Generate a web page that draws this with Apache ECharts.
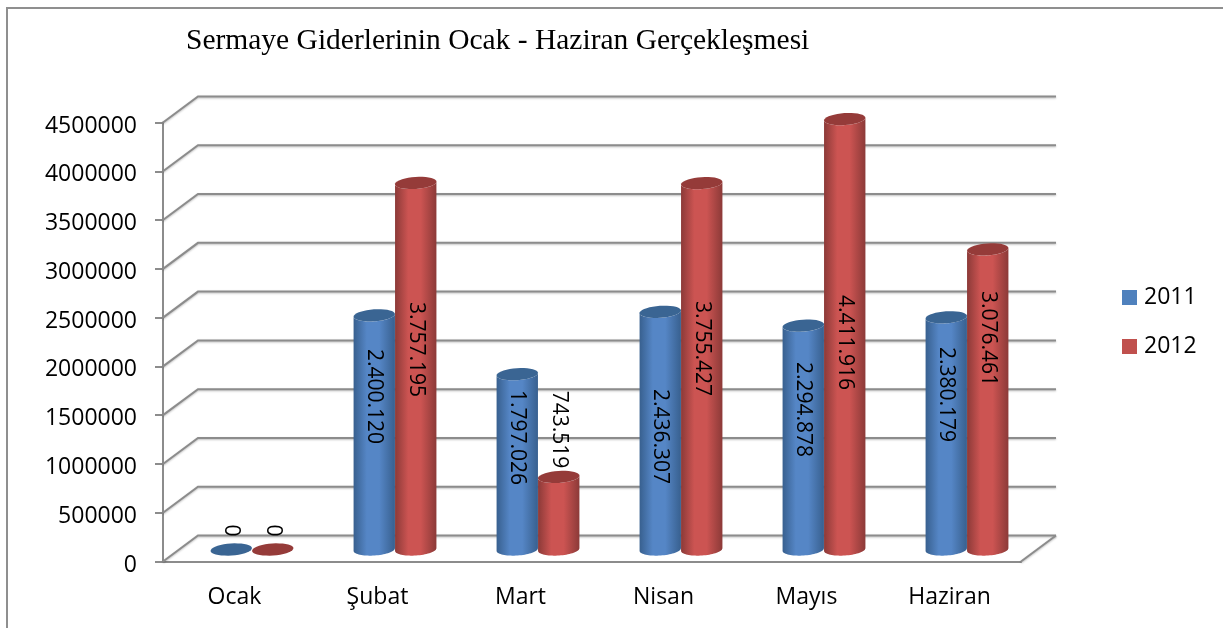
<!DOCTYPE html>
<html lang="tr">
<head>
<meta charset="utf-8">
<title>Sermaye Giderleri</title>
<script src="https://cdn.jsdelivr.net/npm/echarts@6/dist/echarts.min.js"></script>
<style>
  html, body { margin: 0; padding: 0; background: #fff; }
  #chart { width: 1223px; height: 628px; }
</style>
</head>
<body>
<div id="chart"></div>
<script>
const categories = ['Ocak', 'Şubat', 'Mart', 'Nisan', 'Mayıs', 'Haziran'];
const values2011 = [0, 2400120, 1797026, 2436307, 2294878, 2380179];
const values2012 = [0, 3757195, 743519, 3755427, 4411916, 3076461];
const yTicks = [0, 500000, 1000000, 1500000, 2000000, 2500000, 3000000, 3500000, 4000000, 4500000];
// height on the value axis where each rotated label sits
const labelAt2011 = [195000, 1568000, 1148000, 1158000, 1435000, 1589000];
const labelAt2012 = [195000, 2050000, 1230000, 2060000, 2122000, 2163000];

const FONT = '"Open Sans", sans-serif';
const GRID_LINE = '#8c8c8c';
const DEPTH_X = 35;
const DEPTH_Y = 26;
const BAR_LIFT = 12;

const chart = echarts.init(document.getElementById('chart'));

// 2.400.120 style numbers
function dotted(n) {
  return String(n).replace(/\B(?=(\d{3})+$)/g, '.');
}

function ellipsePoints(cx, cy, rx, ry, from, to) {
  const tilt = -4 * Math.PI / 180;
  const pts = [];
  const steps = 36;
  for (let i = 0; i <= steps; i++) {
    const a = from + (to - from) * i / steps;
    const ex = rx * Math.cos(a);
    const ey = ry * Math.sin(a);
    pts.push([
      cx + ex * Math.cos(tilt) - ey * Math.sin(tilt),
      cy + ex * Math.sin(tilt) + ey * Math.cos(tilt)
    ]);
  }
  return pts;
}

// back wall, side wall and floor lines
function renderWall(params, api) {
  const v = api.value(1);
  const band = api.size([1, 0])[0];
  const left = api.coord([0, v]);
  const right = api.coord([categories.length - 1, v]);
  const x0 = left[0] - band / 2;
  const x1 = right[0] + band / 2;
  const y = left[1];
  const lineStyle = {
    stroke: GRID_LINE, lineWidth: 2, fill: null,
    shadowColor: 'rgba(0,0,0,0.25)', shadowBlur: 2, shadowOffsetY: 1
  };
  const children = [{
    type: 'polyline',
    shape: { points: [[x0, y], [x0 + DEPTH_X, y - DEPTH_Y], [x1 + DEPTH_X, y - DEPTH_Y]] },
    style: lineStyle
  }];
  if (v === 0) {
    children.push({
      type: 'polyline',
      shape: { points: [[x1, y], [x1 + DEPTH_X, y - DEPTH_Y]] },
      style: lineStyle
    });
  }
  return { type: 'group', children };
}

function cylinder(side, edge, mid, topColor) {
  return function (params, api) {
    const i = api.value(0);
    const v = api.value(1);
    const band = api.size([1, 0])[0];
    const w = band * 0.29;
    const rx = w / 2;
    const ry = 6;
    const center = api.coord([i, v])[0] + DEPTH_X / 2 + side * rx;
    const topY = api.coord([i, v])[1] - BAR_LIFT;
    const baseY = api.coord([i, 0])[1] - BAR_LIFT;
    const labelY = api.coord([i, api.value(2)])[1] - BAR_LIFT;

    const children = [];
    if (v > 0) {
      const bottomArc = ellipsePoints(center, baseY, rx, ry, Math.PI, 0);
      const topArc = ellipsePoints(center, topY, rx, ry, 0, Math.PI);
      children.push({
        type: 'polygon',
        shape: { points: bottomArc.concat(topArc) },
        style: {
          fill: {
            type: 'linear', x: 0, y: 0, x2: 1, y2: 0,
            colorStops: [
              { offset: 0, color: edge },
              { offset: 0.32, color: mid },
              { offset: 0.62, color: mid },
              { offset: 1, color: edge }
            ]
          }
        }
      });
    }
    children.push({
      type: 'polygon',
      shape: { points: ellipsePoints(center, topY, rx, ry, 0, Math.PI * 2) },
      style: { fill: topColor }
    });
    children.push({
      type: 'text',
      x: center,
      y: labelY,
      rotation: -Math.PI / 2,
      style: {
        text: dotted(v),
        fill: '#000',
        font: '21px ' + FONT,
        align: 'center',
        verticalAlign: 'middle'
      }
    });
    return { type: 'group', children };
  };
}

chart.setOption({
  animation: false,
  backgroundColor: '#fff',
  title: {
    text: 'Sermaye Giderlerinin Ocak - Haziran Gerçekleşmesi',
    left: 181,
    top: 21,
    textStyle: { fontFamily: '"Liberation Serif", serif', fontSize: 29.5, fontWeight: 'normal', color: '#000' }
  },
  legend: {
    data: ['2011', '2012'],
    orient: 'vertical',
    left: 1117,
    top: 281,
    icon: 'rect',
    itemWidth: 15,
    itemHeight: 15,
    itemGap: 26,
    textStyle: { fontFamily: FONT, fontSize: 23, color: '#000', padding: [0, 0, 0, 2] }
  },
  grid: { left: 163, top: 122.5, right: 202, bottom: 66.5 },
  xAxis: {
    type: 'category',
    data: categories,
    axisLine: { lineStyle: { color: GRID_LINE, width: 2 } },
    axisTick: { length: 8, lineStyle: { color: GRID_LINE, width: 2 } },
    axisLabel: { fontFamily: FONT, fontSize: 23, color: '#000', margin: 24 }
  },
  yAxis: {
    type: 'value',
    min: 0,
    max: 4500000,
    interval: 500000,
    splitLine: { show: false },
    axisLine: { show: true, lineStyle: { color: GRID_LINE, width: 2 } },
    axisTick: { show: true, length: 8, lineStyle: { color: GRID_LINE, width: 2 } },
    // top align with a short line box drops the text about 3px below the tick
    axisLabel: { fontFamily: FONT, fontSize: 23, color: '#000', margin: 26, verticalAlign: 'top', lineHeight: 7, formatter: v => String(v) }
  },
  graphic: [
    {
      type: 'polyline',
      shape: { points: [[7, 628], [7, 8], [1223, 8]] },
      style: { stroke: '#8f8f8f', lineWidth: 2, fill: null }
    }
  ],
  series: [
    {
      type: 'custom',
      silent: true,
      z: 1,
      clip: false,
      encode: { x: 0, y: 1 },
      data: yTicks.map(v => [0, v]),
      renderItem: renderWall
    },
    {
      name: '2011',
      type: 'custom',
      z: 5,
      clip: false,
      itemStyle: { color: '#4F81BD' },
      encode: { x: 0, y: 1 },
      data: values2011.map((v, i) => [i, v, labelAt2011[i]]),
      renderItem: cylinder(-1, '#38608f', '#5586c6', '#3a6593')
    },
    {
      name: '2012',
      type: 'custom',
      z: 6,
      clip: false,
      itemStyle: { color: '#C0504D' },
      encode: { x: 0, y: 1 },
      data: values2012.map((v, i) => [i, v, labelAt2012[i]]),
      renderItem: cylinder(1, '#8c3a38', '#cc5452', '#953b39')
    }
  ]
});
</script>
</body>
</html>
